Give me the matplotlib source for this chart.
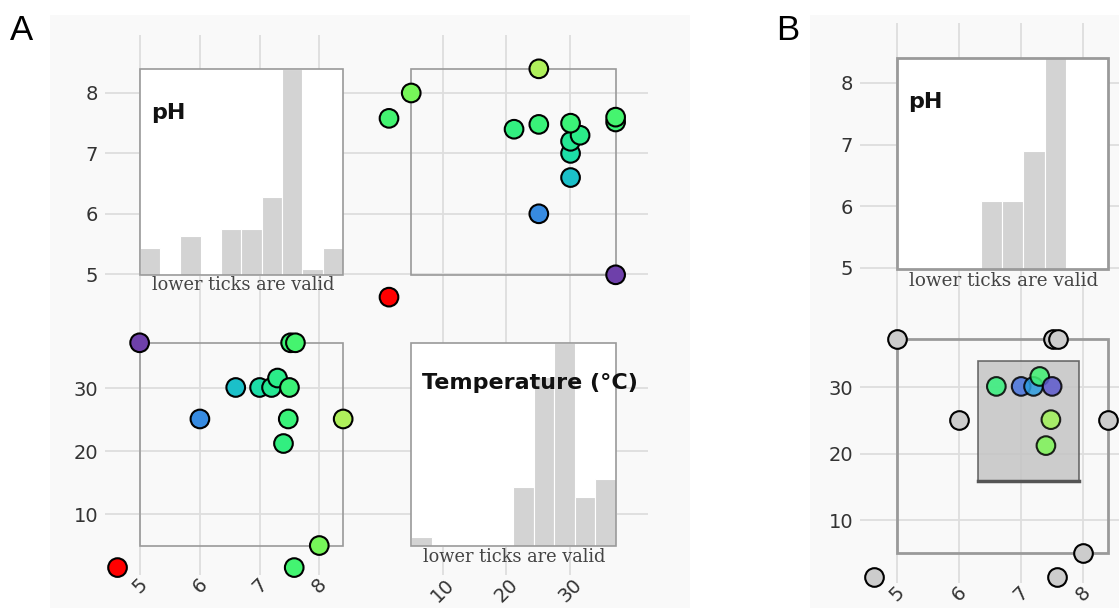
import numpy as np
import matplotlib
matplotlib.use("Agg")
import matplotlib.pyplot as plt
from matplotlib.patches import Rectangle

W, H = 1119, 608

# samples: pH and water temperature (degC)
ph = np.array([4.99, 7.52, 7.60, 6.60, 7.00, 7.20, 7.30, 7.50, 6.00, 7.48, 7.40, 8.40, 8.00, 4.62, 7.58])
temp = np.array([37.2, 37.2, 37.2, 30.1, 30.1, 30.1, 31.6, 30.1, 25.1, 25.1, 21.2, 25.1, 5.0, 1.5, 1.5])

# valid ranges shown by the boxes
ph_range = (4.99, 8.40)
temp_range = (5.0, 37.2)

ph_ticks = [5, 6, 7, 8]
temp_ticks = [10, 20, 30]

# histogram bar heights (relative to tallest bar)
ph_hist_a = [0.13, 0.0, 0.19, 0.0, 0.22, 0.22, 0.38, 1.0, 0.03, 0.13]
temp_hist_a = [0.04, 0.0, 0.0, 0.0, 0.0, 0.29, 0.83, 1.0, 0.24, 0.33]
ph_hist_b = [0.0, 0.0, 0.0, 0.0, 0.32, 0.32, 0.56, 1.0, 0.0, 0.0]

# brush selection in panel B (pH min, pH max, temp min, temp max)
brush = (6.31, 7.94, 15.9, 33.9)
brush_color_vals = [0.72, 0.22, 0.35, 0.75, 0.12, 0.97, 0.90]


def cool(t):
    # d3 interpolateCool (cubehelix long)
    t = np.clip(np.asarray(t, float), 0, 1)
    h = np.deg2rad(260 - 180 * t + 120)
    s = 0.75 + 0.75 * t
    l = 0.35 + 0.45 * t
    a = s * l * (1 - l)
    r = l + a * (-0.14861 * np.cos(h) + 1.78277 * np.sin(h))
    g = l + a * (-0.29227 * np.cos(h) - 0.90649 * np.sin(h))
    b = l + a * (1.97294 * np.cos(h))
    return np.clip(np.stack([r, g, b], -1), 0, 1)


fig = plt.figure(figsize=(W / 100, H / 100), dpi=100)


def cell(x0, y0, x1, y1, xlim, ylim, xt, yt, xlab, ylab):
    ax = fig.add_axes([x0 / W, 1 - y1 / H, (x1 - x0) / W, (y1 - y0) / H])
    ax.set_xlim(xlim)
    ax.set_ylim(ylim)
    ax.patch.set_alpha(0)
    for s in ax.spines.values():
        s.set_visible(False)
    ax.set_xticks(xt)
    ax.set_yticks(yt)
    if not xlab:
        ax.set_xticklabels([])
    if not ylab:
        ax.set_yticklabels([])
    ax.grid(True, color="#dedede", lw=1.3)
    ax.set_axisbelow(True)
    ax.tick_params(length=0, labelsize=14, labelcolor="#333333")
    ax.tick_params(axis="y", pad=5)
    ax.tick_params(axis="x", labelrotation=45, pad=0)
    return ax


def box(ax, xr, yr, face, lw):
    if face:
        ax.add_patch(Rectangle((xr[0], yr[0]), xr[1] - xr[0], yr[1] - yr[0],
                               facecolor=face, edgecolor="none", zorder=1))
    ax.add_patch(Rectangle((xr[0], yr[0]), xr[1] - xr[0], yr[1] - yr[0],
                           facecolor="none", edgecolor="#9a9a9a", lw=lw, zorder=2.5))


def hist(ax, rng, heights):
    edges = np.linspace(rng[0], rng[1], len(heights) + 1)
    ax.bar(edges[:-1], np.array(heights) * (rng[1] - rng[0]), width=np.diff(edges),
           bottom=rng[0], align="edge", color="#d3d3d3", edgecolor="white", lw=0.8, zorder=2)


def ftext(x, y, s, **kw):
    fig.text(x / W, 1 - y / H, s, **kw)


# point colours: pH scale, red when outside valid range
inside = (ph >= ph_range[0]) & (ph <= ph_range[1])
t = (ph - ph_range[0]) / (ph_range[1] - ph_range[0])
cols = cool(t)
cols[~inside] = [1, 0, 0]

# ---------- panel A ----------
fig.add_artist(Rectangle((50 / W, 0), 640 / W, 1 - 15 / H, transform=fig.transFigure,
                         facecolor="#f9f9f9", edgecolor="none", zorder=-1))

ph_lim = (4.41, 8.95)
ph_ylim = (4.49, 8.96)
t_xlim = (-0.55, 42.3)
t_ylim = (0.32, 43.2)

a11 = cell(105, 35, 376, 305, ph_lim, ph_ylim, ph_ticks, ph_ticks, False, True)
box(a11, ph_range, ph_range, "white", 1.2)
hist(a11, ph_range, ph_hist_a)

a12 = cell(376, 35, 648, 305, t_xlim, ph_ylim, temp_ticks, ph_ticks, False, False)
box(a12, temp_range, ph_range, None, 1.2)
a12.scatter(temp, ph, s=180, c=cols, edgecolors="black", linewidths=1.5, zorder=3, clip_on=False)

a21 = cell(105, 305, 376, 575, ph_lim, t_ylim, ph_ticks, temp_ticks, True, True)
box(a21, ph_range, temp_range, None, 1.2)
a21.scatter(ph, temp, s=180, c=cols, edgecolors="black", linewidths=1.5, zorder=3, clip_on=False)

a22 = cell(376, 305, 648, 575, t_xlim, t_ylim, temp_ticks, temp_ticks, True, False)
box(a22, temp_range, temp_range, "white", 1.2)
hist(a22, temp_range, temp_hist_a)

ftext(151, 113, "pH", fontsize=16, fontweight="bold", va="center", color="#111111")
ftext(422, 383, "Temperature (°C)", fontsize=16, fontweight="bold", va="center",
      color="#111111", zorder=5)
ftext(243, 285, "lower ticks are valid", family="DejaVu Serif", fontsize=12.8,
      ha="center", va="center", color="#444444")
ftext(514, 557, "lower ticks are valid", family="DejaVu Serif", fontsize=12.8,
      ha="center", va="center", color="#444444")
ftext(21, 30, "A", family="Liberation Sans", fontsize=25, ha="center", va="center")

# ---------- panel B ----------
fig.add_artist(Rectangle((810 / W, 0), 1.0, 1 - 15 / H, transform=fig.transFigure,
                         facecolor="#f9f9f9", edgecolor="none", zorder=-1))

b_xlim = (4.40, 8.95)
b_ylim_top = (4.48, 8.97)
b_ylim_bot = (0.53, 43.1)

b11 = cell(860, 23, 1142, 300, b_xlim, b_ylim_top, ph_ticks, ph_ticks, False, True)
box(b11, ph_range, ph_range, "white", 2.0)
hist(b11, ph_range, ph_hist_b)

b21 = cell(860, 300, 1142, 583, b_xlim, b_ylim_bot, ph_ticks, temp_ticks, True, True)
box(b21, ph_range, temp_range, None, 2.0)

sel = (ph >= brush[0]) & (ph <= brush[1]) & (temp >= brush[2]) & (temp <= brush[3])
b21.scatter(ph[~sel], temp[~sel], s=180, c="#cccccc", edgecolors="black", linewidths=1.5,
            zorder=3, clip_on=False)
b21.add_patch(Rectangle((brush[0], brush[2]), brush[1] - brush[0], brush[3] - brush[2],
                        facecolor="#c4c4c4", alpha=0.85, edgecolor="#555555", lw=1.2, zorder=2.6))
b21.plot([brush[0], brush[1]], [brush[2], brush[2]], color="#555555", lw=2.5, zorder=2.7)
b21.scatter(ph[sel], temp[sel], s=180, c=cool(brush_color_vals), alpha=0.85,
            edgecolors="black", linewidths=1.5, zorder=4, clip_on=False)

ftext(908, 102, "pH", fontsize=16, fontweight="bold", va="center", color="#111111")
ftext(1004, 281, "lower ticks are valid", family="DejaVu Serif", fontsize=13.2,
      ha="center", va="center", color="#444444")
ftext(788, 30, "B", family="Liberation Sans", fontsize=25, ha="center", va="center")

fig.savefig("out.png", dpi=100)
